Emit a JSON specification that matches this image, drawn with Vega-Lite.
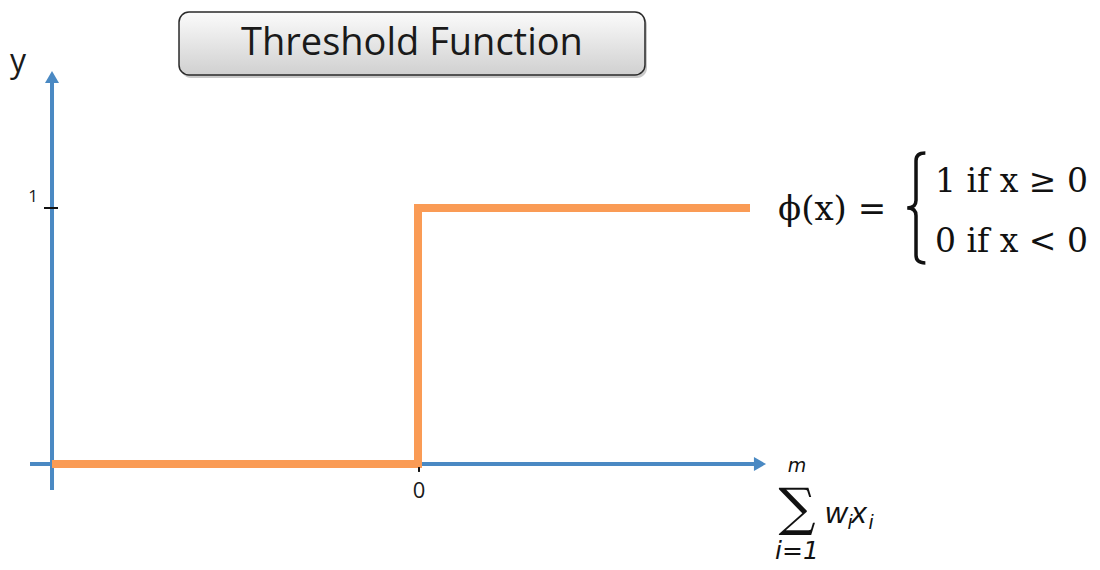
{
  "$schema": "https://vega.github.io/schema/vega-lite/v6.json",
  "autosize": {"type": "fit", "contains": "padding"},
  "width": 1100,
  "height": 570,
  "padding": 0,
  "background": "white",
  "config": {"view": {"stroke": null}},
  "encoding": {
    "x": {"field": "x", "type": "quantitative", "scale": {"domain": [-1.1421, 1.8634], "nice": false, "zero": false}, "axis": null},
    "y": {"field": "y", "type": "quantitative", "scale": {"domain": [-0.4141, 1.8125], "nice": false, "zero": false}, "axis": null}
  },
  "layer": [
    {
      "data": {"values": [
        {"x": -1, "y": -0.1016, "x2": -1, "y2": 1.4883},
        {"x": -1.0601, "y": 0, "x2": 0.918, "y2": 0}
      ]},
      "mark": {"type": "rule", "color": "#4A89C3", "strokeWidth": 4},
      "encoding": {"x2": {"field": "x2"}, "y2": {"field": "y2"}}
    },
    {
      "data": {"values": [{"x": -1, "y": 1.5117}]},
      "mark": {"type": "point", "shape": "triangle-up", "size": 196, "filled": true, "color": "#4A89C3", "opacity": 1}
    },
    {
      "data": {"values": [{"x": 0.9344, "y": 0}]},
      "mark": {"type": "point", "shape": "triangle-right", "size": 196, "filled": true, "color": "#4A89C3", "opacity": 1}
    },
    {
      "data": {"values": [
        {"x": -1, "y": 0, "o": 1},
        {"x": 0, "y": 0, "o": 2},
        {"x": 0, "y": 1, "o": 3},
        {"x": 0.9071, "y": 1, "o": 4}
      ]},
      "mark": {"type": "line", "color": "#FA9B55", "strokeWidth": 8, "strokeJoin": "miter", "strokeCap": "butt"},
      "encoding": {"order": {"field": "o", "type": "quantitative"}}
    },
    {
      "data": {"values": [
        {"x": -1.0219, "y": 1, "x2": -0.9836, "y2": 1},
        {"x": 0.0027, "y": -0.012, "x2": 0.0027, "y2": -0.031}
      ]},
      "mark": {"type": "rule", "color": "#111111", "strokeWidth": 2},
      "encoding": {"x2": {"field": "x2"}, "y2": {"field": "y2"}}
    },
    {
      "data": {"values": [{"x": -0.6475, "y": 1.7539, "x2": 0.6257, "y2": 1.5078}]},
      "mark": {"type": "rect", "cornerRadius": 10, "color": "#888888", "opacity": 0.45},
      "encoding": {"x2": {"field": "x2"}, "y2": {"field": "y2"}}
    },
    {
      "data": {"values": [{"x": -0.653, "y": 1.7656, "x2": 0.6202, "y2": 1.5195}]},
      "mark": {"type": "rect", "cornerRadius": 10, "opacity": 1, "stroke": "#2A2A2A", "strokeWidth": 1.5,
        "fill": {"gradient": "linear", "x1": 0, "y1": 0, "x2": 0, "y2": 1, "stops": [{"offset": 0, "color": "#FBFBFB"}, {"offset": 1, "color": "#D0D0D0"}]}},
      "encoding": {"x2": {"field": "x2"}, "y2": {"field": "y2"}}
    },
    {
      "data": {"values": [{"x": -0.0164, "y": 1.5977, "label": "Threshold Function"}]},
      "mark": {"type": "text", "font": "Open Sans", "fontSize": 38, "color": "#1A1A1A", "align": "center", "baseline": "alphabetic"},
      "encoding": {"text": {"field": "label"}}
    },
    {
      "data": {"values": [{"x": -1.0929, "y": 1.5313, "label": "y"}]},
      "mark": {"type": "text", "font": "Open Sans", "fontSize": 32, "color": "#1A1A1A", "align": "center", "baseline": "alphabetic"},
      "encoding": {"text": {"field": "label"}}
    },
    {
      "data": {"values": [{"x": -1.0519, "y": 1.0234, "label": "1"}]},
      "mark": {"type": "text", "font": "Open Sans", "fontSize": 17, "color": "#1A1A1A", "align": "center", "baseline": "alphabetic"},
      "encoding": {"text": {"field": "label"}}
    },
    {
      "data": {"values": [{"x": 0.0027, "y": -0.1328, "label": "0"}]},
      "mark": {"type": "text", "font": "Open Sans", "fontSize": 22, "color": "#1A1A1A", "align": "center", "baseline": "alphabetic"},
      "encoding": {"text": {"field": "label"}}
    },
    {
      "data": {"values": [{"x": 0.9836, "y": 0.9922, "label": "ϕ(x) ="}]},
      "mark": {"type": "text", "font": "DejaVu Serif", "fontSize": 34, "color": "#111111", "align": "left", "baseline": "middle"},
      "encoding": {"text": {"field": "label"}}
    },
    {
      "data": {"values": [{"x": 1.3607, "y": 1.0}]},
      "mark": {"type": "point", "shape": "M0.17,-1 Q0,-1 0,-0.86 L0,-0.14 Q0,0 -0.16,0 Q0,0 0,0.14 L0,0.86 Q0,1 0.17,1", "size": 12100, "filled": false, "color": "#111111", "strokeWidth": 3.5, "opacity": 1}
    },
    {
      "data": {"values": [
        {"x": 1.4126, "y": 1.1016, "label": "1 if x ≥ 0"},
        {"x": 1.4126, "y": 0.8672, "label": "0 if x < 0"}
      ]},
      "mark": {"type": "text", "font": "DejaVu Serif", "fontSize": 33, "color": "#111111", "align": "left", "baseline": "middle"},
      "encoding": {"text": {"field": "label"}}
    },
    {
      "data": {"values": [{"x": 1.0355, "y": -0.1758, "label": "∑"}]},
      "mark": {"type": "text", "font": "DejaVu Serif", "fontSize": 52, "color": "#111111", "align": "center", "baseline": "middle"},
      "encoding": {"text": {"field": "label"}}
    },
    {
      "data": {"values": [{"x": 1.0355, "y": -0.0312, "label": "m"}]},
      "mark": {"type": "text", "font": "DejaVu Sans", "fontStyle": "italic", "fontSize": 19, "color": "#111111", "align": "center", "baseline": "alphabetic"},
      "encoding": {"text": {"field": "label"}}
    },
    {
      "data": {"values": [{"x": 1.0355, "y": -0.3711, "label": "i=1"}]},
      "mark": {"type": "text", "font": "DejaVu Sans", "fontStyle": "italic", "fontSize": 25, "color": "#111111", "align": "center", "baseline": "alphabetic"},
      "encoding": {"text": {"field": "label"}}
    },
    {
      "data": {"values": [
        {"x": 1.1421, "y": -0.2305, "label": "w"},
        {"x": 1.2049, "y": -0.2305, "label": "x"}
      ]},
      "mark": {"type": "text", "font": "Liberation Sans", "fontStyle": "italic", "fontSize": 30, "color": "#111111", "align": "center", "baseline": "alphabetic"},
      "encoding": {"text": {"field": "label"}}
    },
    {
      "data": {"values": [
        {"x": 1.1803, "y": -0.2539, "label": "i"},
        {"x": 1.2377, "y": -0.2539, "label": "i"}
      ]},
      "mark": {"type": "text", "font": "Liberation Sans", "fontStyle": "italic", "fontSize": 20, "color": "#111111", "align": "center", "baseline": "alphabetic"},
      "encoding": {"text": {"field": "label"}}
    }
  ]
}
